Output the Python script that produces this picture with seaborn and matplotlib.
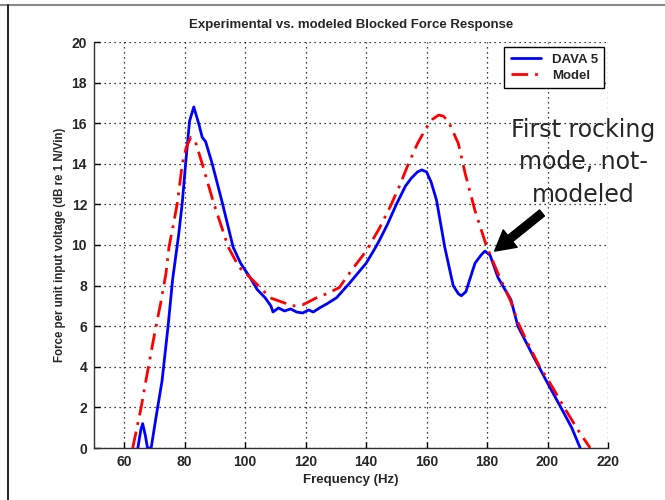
import matplotlib
matplotlib.use("Agg")
import matplotlib.pyplot as plt
import seaborn as sns
import pandas as pd
from matplotlib.lines import Line2D

# ---- data ----
dava_hz = [64.5, 65.5, 66.1, 67.0, 67.7, 68.9, 70.5, 72.5, 74.5, 76.0, 78.0, 79.2, 80.3,
           81.6, 83.0, 84.6, 85.8, 86.9, 89.1, 92.4, 96.0, 98.5, 101.6, 104.0, 106.6,
           108.5, 109.2, 111, 113, 115, 117, 119, 121, 122.5, 124.6, 127, 130.2, 134.4,
           140.0, 142.6, 144.3, 147, 150, 153, 155, 157, 158.4, 160, 161.5, 163.3, 166.0,
           168.8, 170.5, 171.5, 173, 176, 178, 179.3, 181, 183.6, 187.9, 190.2, 195, 200,
           204.4, 208, 210.8]
dava_db = [0, 0.9, 1.2, 0.6, 0, 0, 1.5, 3.3, 6.0, 8.3, 10.5, 12.1, 14.0,
           16.1, 16.8, 16.0, 15.3, 15.1, 14.0, 12.1, 9.9, 9.1, 8.4, 7.8, 7.4,
           7.0, 6.7, 6.9, 6.75, 6.85, 6.7, 6.65, 6.8, 6.7, 6.9, 7.1, 7.4, 8.1,
           9.1, 9.75, 10.2, 11.0, 12.0, 12.9, 13.3, 13.6, 13.7, 13.6, 13.1, 12.2, 9.9,
           8.0, 7.6, 7.5, 7.7, 9.1, 9.5, 9.7, 9.5, 8.4, 7.3, 6.0, 4.6, 3.2,
           2.0, 1.0, 0.0]

model_hz = [62.8, 65.6, 67.2, 70.0, 72.0, 73.8, 74.8, 76.5, 77.6, 79.2, 80.5, 82.0, 83.5,
            85.8, 89.5, 94.4, 98, 101.6, 105, 108.2, 112, 115.7, 119, 123.6, 127, 131.1,
            135.4, 140, 144.3, 148, 151, 154, 157, 160, 162, 164, 165.5, 167.2, 170.5,
            172.8, 176.0, 179.7, 183.6, 187.9, 190.2, 193, 197.4, 200, 202, 205.9, 210, 214.1]
model_db = [0, 2.0, 3.35, 5.6, 7.1, 8.6, 9.9, 11.2, 12.1, 14.0, 14.8, 15.3, 15.1,
            14.0, 12.1, 9.9, 8.9, 8.4, 7.9, 7.4, 7.2, 7.0, 7.05, 7.4, 7.6, 7.9,
            8.8, 9.7, 10.8, 11.9, 12.9, 14.0, 15.0, 15.8, 16.2, 16.4, 16.35, 16.1, 15.0,
            13.5, 11.7, 10.0, 8.6, 7.2, 6.2, 5.3, 4.0, 3.4, 2.9, 1.9, 0.9, 0]

x_ticks = [60, 80, 100, 120, 140, 160, 180, 200, 220]
y_ticks = [0, 2, 4, 6, 8, 10, 12, 14, 16, 18, 20]

series_names = ["DAVA 5", "Model"]

# ---- styling ----
sns.set_style("white")
plt.rcParams["font.family"] = ["Liberation Sans", "DejaVu Sans"]

fig = plt.figure(figsize=(6.65, 5.0), dpi=100)
ax = fig.add_axes([94 / 665, 52 / 500, (608 - 94) / 665, (448 - 42) / 500])

df_dava = pd.DataFrame({"Frequency": dava_hz, "dB": dava_db})
df_model = pd.DataFrame({"Frequency": model_hz, "dB": model_db})

sns.lineplot(data=df_dava, x="Frequency", y="dB", ax=ax, color="#0000ff", lw=2.0,
             label=series_names[0], estimator=None, sort=False)
sns.lineplot(data=df_model, x="Frequency", y="dB", ax=ax, color="#ff0000", lw=2.0,
             label=series_names[1], estimator=None, sort=False,
             linestyle=(0, (6, 2.5, 1, 2.5)))

ax.set_xlim(50, 220)
ax.set_ylim(0, 20)
ax.set_xticks(x_ticks)
ax.set_yticks(y_ticks)
ax.tick_params(axis="both", direction="in", length=4, width=1, color="black",
               labelsize=10, pad=5, left=True, bottom=True)
for lab in ax.get_xticklabels() + ax.get_yticklabels():
    lab.set_fontweight("bold")

ax.grid(True, color="black", linestyle=(0, (1, 3)), linewidth=0.9)
for side in ["top", "right"]:
    ax.spines[side].set_visible(False)
for side in ["left", "bottom"]:
    ax.spines[side].set_color("#333333")
    ax.spines[side].set_linewidth(1.0)

ax.set_title("Experimental vs. modeled Blocked Force Response", fontsize=9.5,
             fontweight="bold", pad=10)
ax.set_xlabel("Frequency (Hz)", fontsize=9.5, fontweight="bold", labelpad=4)
ax.set_ylabel("Force per unit input voltage (dB re 1 N/Vin)", fontsize=8.3,
              fontweight="bold", labelpad=4)

leg = ax.legend(loc="upper right", bbox_to_anchor=(0.993, 0.988), borderaxespad=0,
                frameon=True, fancybox=False, edgecolor="black", framealpha=1,
                prop={"weight": "bold", "size": 9.5}, handlelength=2.3,
                borderpad=0.5, labelspacing=0.3)
leg.get_frame().set_linewidth(1.0)

# annotation
ax.annotate("", xy=(182.5, 9.7), xycoords="data", xytext=(542, 500 - 213),
            textcoords="figure pixels",
            arrowprops=dict(arrowstyle="simple,head_length=0.9,head_width=1.0,tail_width=0.35",
                            color="black", mutation_scale=16, shrinkA=0, shrinkB=0))
fig.text(583 / 665, 1 - 202 / 500, "First rocking\nmode, not-\nmodeled",
         ha="center", va="baseline", fontsize=17, family="DejaVu Sans",
         linespacing=1.45, multialignment="center")

# slide borders
fig.add_artist(Line2D([0, 1], [1 - 5 / 500, 1 - 5 / 500], transform=fig.transFigure,
                      color="#888888", lw=1.5))
fig.add_artist(Line2D([8 / 665, 8 / 665], [0, 1 - 5 / 500], transform=fig.transFigure,
                      color="black", lw=1.2))

fig.savefig("out.png", dpi=100, facecolor="white")
